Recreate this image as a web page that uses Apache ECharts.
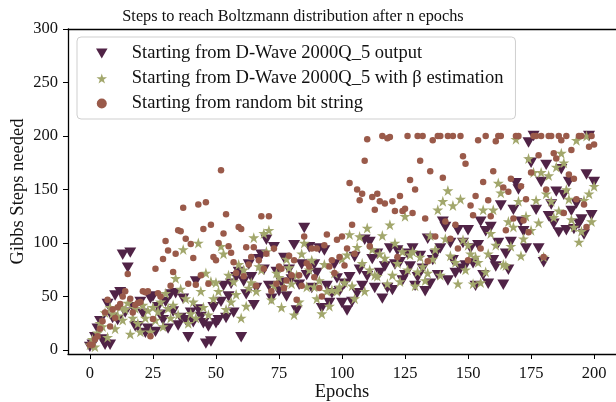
<!DOCTYPE html>
<html><head><meta charset="utf-8">
<script src="https://cdn.jsdelivr.net/npm/echarts@6/dist/echarts.min.js"></script>
<style>html,body{margin:0;padding:0;background:#fff}#c{width:616px;height:402px}</style>
</head><body><div id="c"></div>
<script>
// Epoch index 0..200 (x values)
const epochs = [];
for (let i = 0; i <= 200; i++) epochs.push(i);

// Gibbs steps needed, read per epoch from the reference
const dwaveOutput = [
3,5,12,20,27,10,5,43,5,30,
51,28,54,89,35,77,91,40,22,22,
45,34,16,20,48,50,17,40,33,28,
45,20,52,36,53,23,30,48,28,12,
35,26,64,38,31,25,6,22,8,40,
25,28,45,60,30,50,62,35,68,73,
12,64,52,80,68,42,58,85,89,75,
103,60,48,96,73,55,63,86,50,75,
66,98,37,61,80,114,70,96,58,80,
72,95,39,93,60,44,53,80,67,55,
44,62,37,68,45,87,53,75,60,103,
69,101,85,58,90,72,48,78,58,95,
56,80,93,82,65,70,90,78,95,60,
68,88,76,55,104,62,84,89,70,95,
120,115,65,100,84,72,112,76,100,79,
112,95,81,60,98,120,70,111,62,115,
84,78,100,135,61,90,75,101,131,156,
150,120,111,95,194,175,200,131,95,157,
82,173,125,136,118,148,110,169,145,112,
157,130,113,137,118,122,108,164,200,126,
157];

const dwaveBeta = [
5,10,3,16,25,22,35,12,40,34,
20,32,40,28,38,44,15,30,39,25,
17,42,30,37,17,40,28,36,45,22,
53,39,30,42,67,33,57,94,48,25,
34,45,30,100,55,40,72,33,64,48,
63,55,97,90,38,70,45,64,52,80,
30,75,41,58,63,105,55,78,75,109,
92,112,47,60,72,68,40,59,85,77,
62,33,70,45,90,100,59,75,84,59,
48,65,34,80,55,41,56,72,55,59,
85,63,89,108,60,48,96,106,81,55,
114,75,94,70,69,90,107,86,62,117,
70,100,81,64,92,125,75,89,92,60,
73,87,78,65,72,107,85,94,131,70,
139,104,149,88,135,82,62,141,103,75,
98,90,62,87,82,63,131,73,90,109,
131,98,156,147,80,79,120,97,115,197,
139,88,104,125,179,112,166,140,119,166,
87,146,163,139,124,171,130,184,175,150,
141,122,115,196,101,111,140,200,146,120,
153];

const randomBits = [
5,5,10,13,20,27,35,47,22,38,
30,40,43,50,55,71,48,35,42,44,
45,55,54,55,13,29,76,53,50,85,
102,93,60,73,90,112,111,133,104,62,
99,86,61,136,70,113,138,62,117,87,
84,100,168,109,127,97,91,82,72,115,
113,69,96,80,87,96,60,84,125,76,
90,125,55,95,62,78,76,58,65,88,
70,84,47,70,60,106,81,78,95,68,
95,58,50,98,108,78,84,72,103,87,
106,79,95,156,117,90,150,140,146,177,
197,97,143,131,146,139,200,137,198,199,
139,130,87,144,130,132,200,159,128,150,
200,177,200,123,83,167,196,106,200,200,
161,120,200,104,200,117,95,200,181,174,
84,135,126,144,196,95,157,200,140,125,
167,195,200,200,152,112,148,160,123,200,
200,153,121,141,110,166,200,200,182,200,
87,150,200,200,184,179,200,196,128,200,
164,187,160,141,200,200,136,115,190,200,
192];

const xTicks = [0,25,50,75,100,125,150,175,200];
const yTicks = [0,50,100,150,200,250,300];
const seriesNames = [
  'Starting from D-Wave 2000Q_5 output',
  'Starting from D-Wave 2000Q_5 with \u03b2 estimation',
  'Starting from random bit string'
];

const pair = arr => epochs.map((e, i) => [e, arr[i]]);
const FONT = 'Liberation Serif';
const TRI_DOWN = 'path://M0,0 L12,0 L6,10.4 Z';
const STAR = 'path://M50,0 L61.2,34.5 L97.6,34.5 L68.2,55.9 L79.4,90.5 L50,69.1 L20.6,90.5 L31.8,55.9 L2.4,34.5 L38.8,34.5 Z';

const chart = echarts.init(document.getElementById('c'), null, {renderer: 'canvas'});
chart.setOption({
  animation: false,
  backgroundColor: '#fff',
  title: {
    text: 'Steps to reach Boltzmann distribution after n epochs',
    left: 288, top: 4, textAlign: 'center',
    textStyle: {fontFamily: FONT, fontSize: 16.3, fontWeight: 'normal', color: '#111'}
  },
  legend: {
    orient: 'vertical', left: 77, top: 37,
    padding: [7, 12, 6, 19],
    itemWidth: 50, itemHeight: 10, itemGap: 6,
    backgroundColor: 'rgba(255,255,255,0.85)',
    borderColor: '#cfcfcf', borderWidth: 1, borderRadius: 4,
    textStyle: {fontFamily: FONT, fontSize: 18.5, color: '#111', lineHeight: 17},
    data: seriesNames
  },
  grid: {left: 68, top: 29, width: 548, height: 325, containLabel: false, outerBoundsMode: 'none'},
  xAxis: [{
    type: 'value', min: -8.7, max: 208.7,
    name: 'Epochs', nameLocation: 'middle', nameGap: 29, nameMoveOverlap: false,
    nameTextStyle: {fontFamily: FONT, fontSize: 18.5, color: '#111'},
    axisLine: {show: true, onZero: false, lineStyle: {color: '#000', width: 1.3}},
    axisTick: {show: true, length: 5, customValues: xTicks, lineStyle: {color: '#000', width: 1}},
    axisLabel: {customValues: xTicks, fontFamily: FONT, fontSize: 16.5, color: '#111', margin: 11},
    splitLine: {show: false}
  }, {
    type: 'value', position: 'top', min: -8.7, max: 208.7,
    axisLine: {show: true, onZero: false, lineStyle: {color: '#000', width: 1.3}},
    axisTick: {show: false}, axisLabel: {show: false}, splitLine: {show: false}
  }],
  yAxis: {
    type: 'value', min: -3.7, max: 300,
    name: 'Gibbs Steps needed', nameLocation: 'middle', nameGap: 40, nameMoveOverlap: false,
    nameTextStyle: {fontFamily: FONT, fontSize: 18.5, color: '#111'},
    axisLine: {show: true, onZero: false, lineStyle: {color: '#000', width: 1.3}},
    axisTick: {show: true, length: 5, customValues: yTicks, lineStyle: {color: '#000', width: 1}},
    axisLabel: {customValues: yTicks, fontFamily: FONT, fontSize: 16.5, color: '#111', margin: 10},
    splitLine: {show: false}
  },
  series: [{
    name: seriesNames[0], type: 'scatter', symbol: TRI_DOWN, symbolSize: [12, 10.4],
    itemStyle: {color: '#502346', opacity: 1},
    data: pair(dwaveOutput)
  }, {
    name: seriesNames[1], type: 'scatter', symbol: STAR, symbolSize: 11,
    itemStyle: {color: '#a2a76c', opacity: 1},
    data: pair(dwaveBeta)
  }, {
    name: seriesNames[2], type: 'scatter', symbol: 'circle', symbolSize: 6.5,
    itemStyle: {color: '#9a5a4a', opacity: 1},
    data: pair(randomBits)
  }]
});
</script></body></html>
